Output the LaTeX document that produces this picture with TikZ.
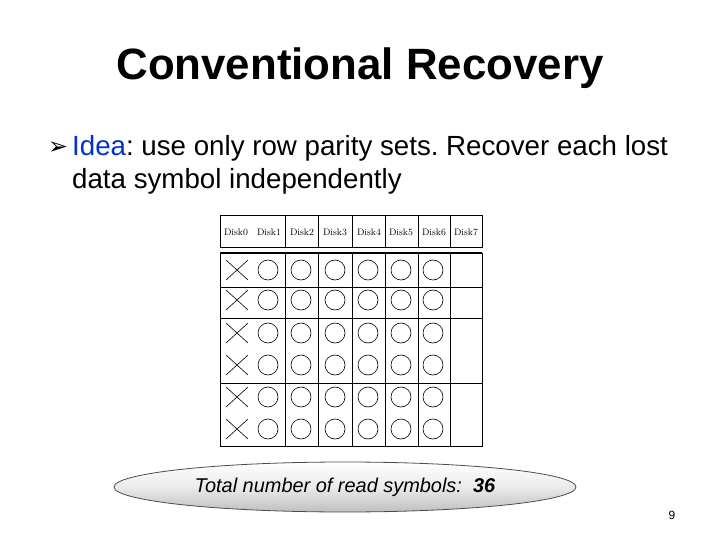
\documentclass[tikz,border=0pt]{standalone}
\usepackage{fontspec}
\usetikzlibrary{calc,shapes.geometric}
\setmainfont{Liberation Sans}
\newfontfamily\dejavu{DejaVu Sans}
\newfontfamily\lmr{Latin Modern Roman}
\begin{document}
\frenchspacing
\begin{tikzpicture}[x=1bp,y=-1bp,
  cell/.style={draw,line width=0.8bp},
  xm/.style={line width=0.6bp},
  om/.style={draw,line width=0.6bp,circle,minimum size=20bp,inner sep=0},
  hd/.style={font=\fontsize{9.5}{10}\selectfont\lmr,inner sep=0}]
\useasboundingbox (0,0) rectangle (720,540);
\node (title) at (360,68) {\fontsize{44}{48}\selectfont\bfseries Conventional Recovery};
\node[anchor=west,inner sep=0] (bul) at (48,148) {\fontsize{24}{26}\selectfont\dejavu ➢};
\node[anchor=west,inner sep=0] (l1) at (72,148) {\fontsize{27.8}{30}\selectfont\textcolor[RGB]{0,51,204}{Idea}: use only row parity sets. Recover each lost};
\node[anchor=west,inner sep=0] (l2) at (72,181) {\fontsize{27.8}{30}\selectfont data symbol independently};
% header
\draw[cell] (220,215) rectangle (482,247);
\foreach \x in {285,318,352,385,418,450} \draw[cell] (\x,215) -- (\x,247);
\foreach \t/\x in {Disk0/236,Disk1/269,Disk2/302,Disk3/335,Disk4/369,Disk5/401,Disk6/434,Disk7/466}
  \node[hd] (h\t) at (\x,232) {\t};
% body
\draw[cell] (220,253) rectangle (482,446);
\draw[line width=2bp] (220,253) -- (482,253);
\foreach \x in {285,318,352,385,418,450} \draw[cell] (\x,253) -- (\x,446);
\foreach \y in {287,318,383} \draw[cell] (220,\y) -- (482,\y);
\foreach \y [count=\r] in {270,300,333,365,397,429}{
  \coordinate (x\r) at (237,\y);
  \draw[xm] ($(x\r)+(-11,-10)$) -- ($(x\r)+(11,10)$) ($(x\r)+(-11,10)$) -- ($(x\r)+(11,-10)$);
  \foreach \x [count=\c] in {268,301,335,368,401,433} \node[om] (o\r\c) at (\x,\y) {};
}
% ellipse
\node[ellipse,draw=black!70,line width=0.8bp,top color=white,bottom color=black!25,middle color=black!8,minimum width=462bp,minimum height=50bp] (tot) at (345,487) {};
\node (tott) at (345,487) {\fontsize{20}{22}\selectfont\itshape Total number of read symbols:\ \ \bfseries 36};
\node (pg) at (672,515) {\fontsize{12}{14}\selectfont 9};
\end{tikzpicture}
\end{document}
